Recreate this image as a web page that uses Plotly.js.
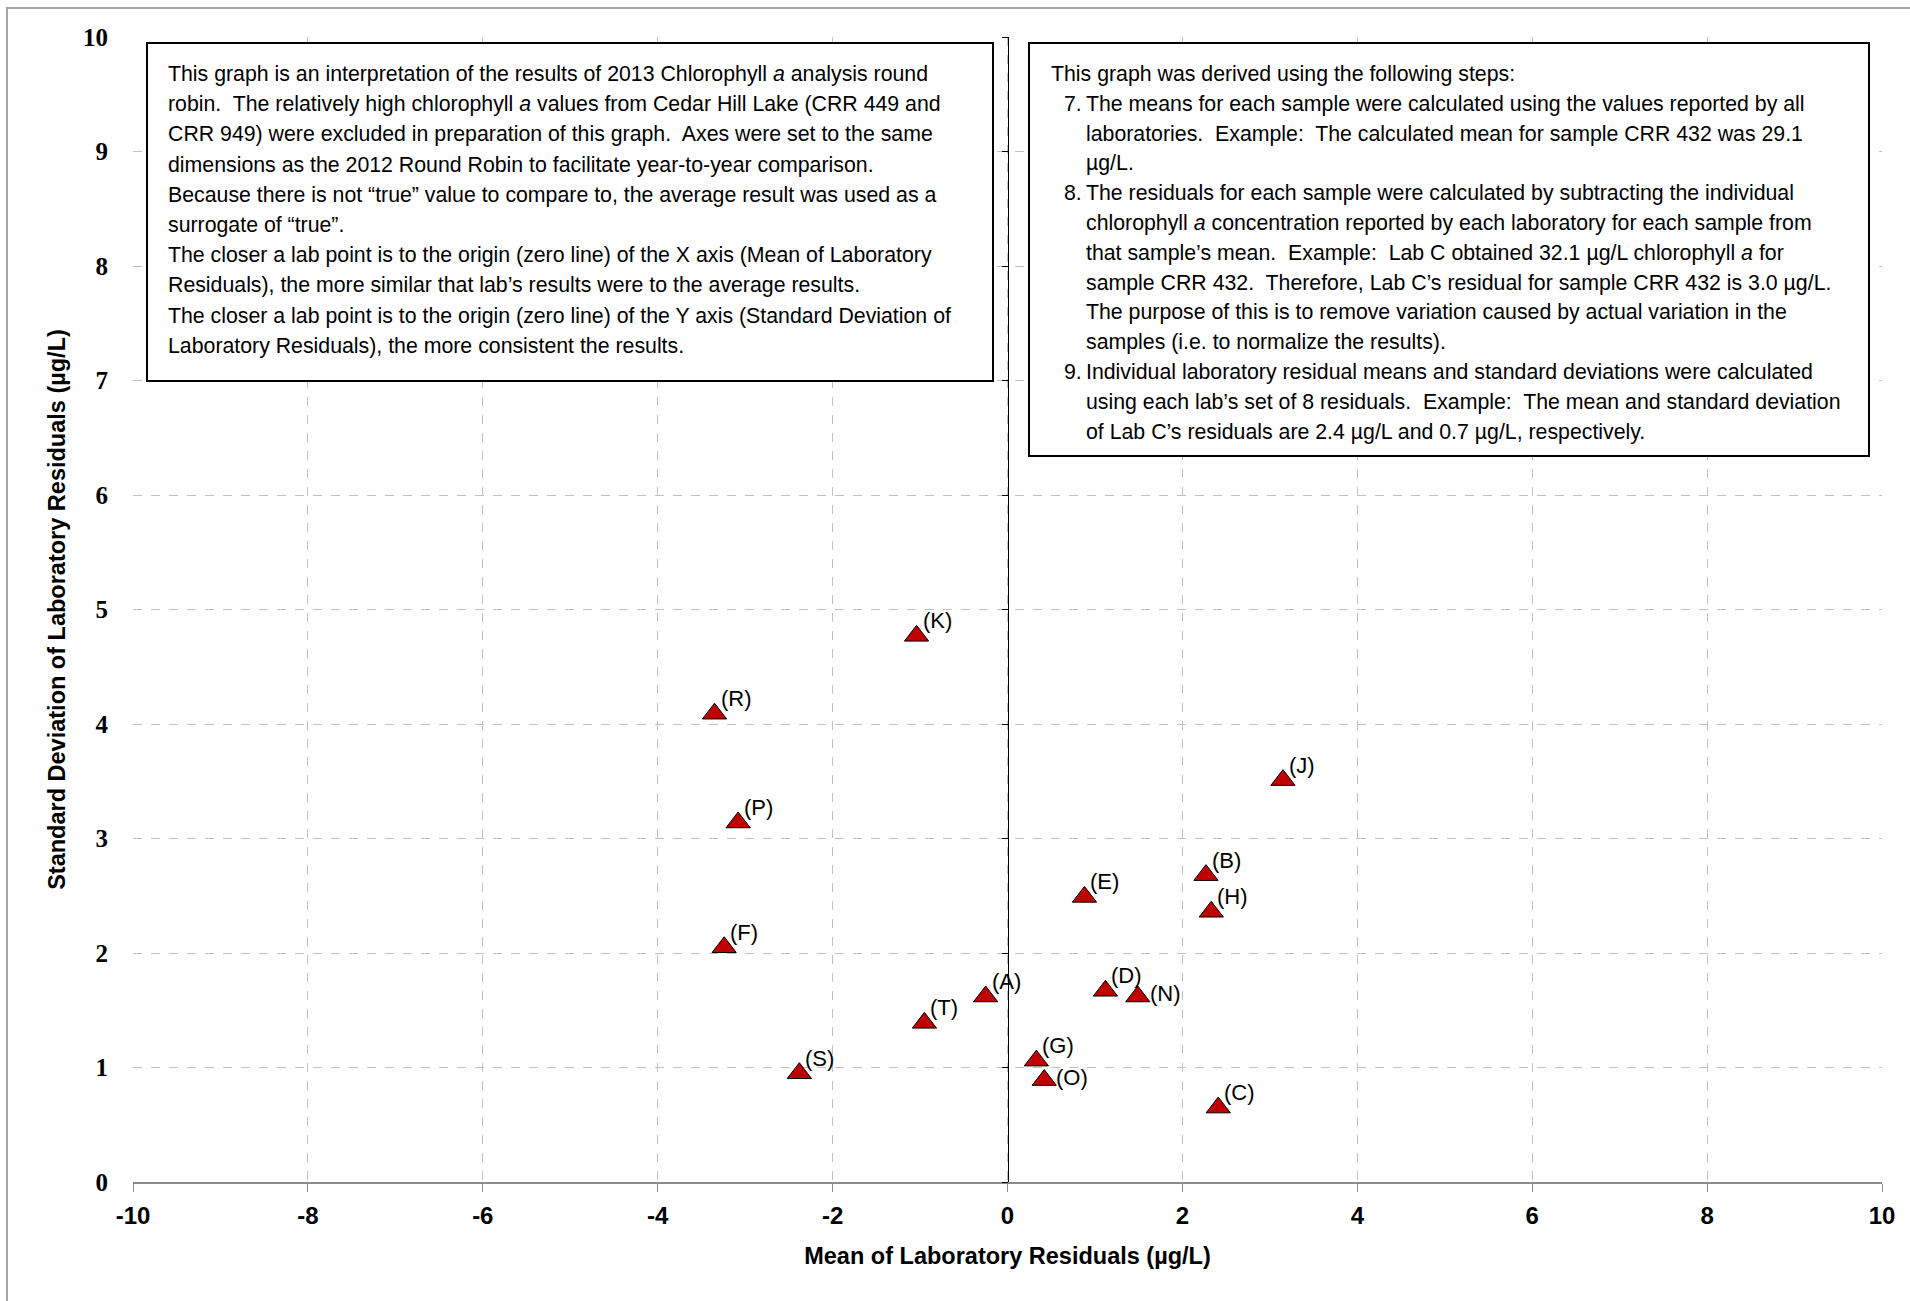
<!DOCTYPE html>
<html>
<head>
<meta charset="utf-8">
<script src="https://cdn.plot.ly/plotly-3.0.1.min.js"></script>
<style>html,body{margin:0;padding:0;background:#fff;}#chart{width:1910px;height:1301px;}</style>
</head>
<body>
<div id="chart"></div>
<script>
// ---- data ----
const labNames = ['A','B','C','D','E','F','G','H','J','K','N','O','P','R','S','T'];
const meanResiduals = [-0.25, 2.27, 2.41, 1.12, 0.88, -3.24, 0.33, 2.33, 3.15, -1.04, 1.49, 0.42, -3.08, -3.35, -2.38, -0.95];
const sdResiduals   = [ 1.62, 2.68, 0.65, 1.67, 2.49,  2.05, 1.06, 2.36, 3.51,  4.77, 1.62, 0.89,  3.14,  4.09,  0.95,  1.39];
const labLabels = labNames.map(n => '(' + n + ')');

const xTickVals = [-10,-8,-6,-4,-2,0,2,4,6,8,10];
const yTickVals = [0,1,2,3,4,5,6,7,8,9,10];

const xTitle = 'Mean of Laboratory Residuals (µg/L)';
const yTitle = 'Standard Deviation of Laboratory Residuals (µg/L)';

const leftBoxLines = [
  'This graph is an interpretation of the results of 2013 Chlorophyll <i>a</i> analysis round',
  'robin.&nbsp; The relatively high chlorophyll <i>a</i> values from Cedar Hill Lake (CRR 449 and',
  'CRR 949) were excluded in preparation of this graph.&nbsp; Axes were set to the same',
  'dimensions as the 2012 Round Robin to facilitate year-to-year comparison.',
  'Because there is not “true” value to compare to, the average result was used as a',
  'surrogate of “true”.',
  'The closer a lab point is to the origin (zero line) of the X axis (Mean of Laboratory',
  'Residuals), the more similar that lab’s results were to the average results.',
  'The closer a lab point is to the origin (zero line) of the Y axis (Standard Deviation of',
  'Laboratory Residuals), the more consistent the results.'
];
const rightBoxLines = [
  'This graph was derived using the following steps:',
  'The means for each sample were calculated using the values reported by all',
  'laboratories.&nbsp; Example:&nbsp; The calculated mean for sample CRR 432 was 29.1',
  'µg/L.',
  'The residuals for each sample were calculated by subtracting the individual',
  'chlorophyll <i>a</i> concentration reported by each laboratory for each sample from',
  'that sample’s mean.&nbsp; Example:&nbsp; Lab C obtained 32.1 µg/L chlorophyll <i>a</i> for',
  'sample CRR 432.&nbsp; Therefore, Lab C’s residual for sample CRR 432 is 3.0 µg/L.',
  'The purpose of this is to remove variation caused by actual variation in the',
  'samples (i.e. to normalize the results).',
  'Individual laboratory residual means and standard deviations were calculated',
  'using each lab’s set of 8 residuals.&nbsp; Example:&nbsp; The mean and standard deviation',
  'of Lab C’s residuals are 2.4 µg/L and 0.7 µg/L, respectively.'
];
const rightBoxNumbers = ['', '7.', '', '', '8.', '', '', '', '', '', '9.', '', ''];

// ---- layout geometry (pixels) ----
const W = 1910, H = 1301;
const PL = 133, PR = 1882, PT = 37, PB = 1182;
const px2x = p => (p - PL) / (PR - PL);
const py2y = p => (PB - p) / (PB - PT);

// label placement style: labels beside (not above) these markers
const middleLabels = ['N','O'];

const sans = '"Liberation Sans", Arial, sans-serif';
const boxFont = {family: sans, size: 21.3, color: '#000'};
const labelFont = {family: sans, size: 22, color: '#000'};

const traces = [
  {
    type: 'scatter', mode: 'markers',
    x: meanResiduals, y: sdResiduals, text: labLabels,
    marker: {symbol: 'triangle-up', size: 21, color: '#C00000', line: {color: '#000', width: 1}},
    cliponaxis: false, hoverinfo: 'x+y+text', showlegend: false
  },
  {
    type: 'scatter', mode: 'markers', xaxis: 'x', yaxis: 'y2',
    x: meanResiduals, y: sdResiduals,
    marker: {opacity: 0}, hoverinfo: 'skip', showlegend: false
  }
];

const annotations = [];
const shapes = [];

// point labels
labNames.forEach((n, i) => {
  const beside = middleLabels.includes(n);
  annotations.push({xref: 'x', yref: 'y', x: meanResiduals[i], y: sdResiduals[i],
    text: labLabels[i], showarrow: false, xanchor: 'left', yanchor: 'middle',
    xshift: beside ? 10 : 4, yshift: beside ? 3 : 15, font: labelFont});
});

// outer chart border
shapes.push({type: 'rect', xref: 'paper', yref: 'paper', layer: 'below',
  x0: px2x(7), x1: px2x(1918), y0: py2y(1320), y1: py2y(8),
  line: {color: '#a6a6a6', width: 2}, fillcolor: 'rgba(0,0,0,0)'});

// text boxes
shapes.push({type: 'rect', xref: 'paper', yref: 'paper', layer: 'above',
  x0: px2x(147), x1: px2x(993), y0: py2y(381), y1: py2y(43),
  line: {color: '#000', width: 2}, fillcolor: '#fff'});
shapes.push({type: 'rect', xref: 'paper', yref: 'paper', layer: 'above',
  x0: px2x(1029), x1: px2x(1869), y0: py2y(456), y1: py2y(43),
  line: {color: '#000', width: 2}, fillcolor: '#fff'});

leftBoxLines.forEach((t, i) => {
  annotations.push({xref: 'paper', yref: 'paper', x: px2x(166), y: py2y(74 + i * 30.2),
    xanchor: 'left', yanchor: 'middle', showarrow: false, align: 'left', text: t, font: boxFont});
});
rightBoxLines.forEach((t, i) => {
  const indent = i === 0 ? 1049 : 1084;
  annotations.push({xref: 'paper', yref: 'paper', x: px2x(indent), y: py2y(74 + i * 29.8),
    xanchor: 'left', yanchor: 'middle', showarrow: false, align: 'left', text: t, font: boxFont});
  if (rightBoxNumbers[i]) {
    annotations.push({xref: 'paper', yref: 'paper', x: px2x(1062), y: py2y(74 + i * 29.8),
      xanchor: 'left', yanchor: 'middle', showarrow: false, align: 'left', text: rightBoxNumbers[i], font: boxFont});
  }
});

const layout = {
  width: W, height: H,
  margin: {l: PL, r: W - PR, t: PT, b: H - PB, pad: 0},
  paper_bgcolor: '#fff', plot_bgcolor: '#fff',
  showlegend: false,
  xaxis: {
    range: [-10, 10], tickvals: xTickVals, ticktext: xTickVals.map(String),
    showgrid: true, gridcolor: '#c0c0c0', griddash: 'dash', gridwidth: 1,
    zeroline: false, showline: true, linecolor: '#8c8c8c', linewidth: 2,
    ticks: 'outside', ticklen: 8, tickcolor: '#8c8c8c', tickwidth: 1,
    ticklabelstandoff: 3,
    tickfont: {family: sans, size: 24, color: '#000', weight: 'bold'},
    title: {text: xTitle, standoff: 20, font: {family: sans, size: 23.5, color: '#000', weight: 'bold'}},
    fixedrange: true
  },
  yaxis: {
    range: [0, 10], tickvals: yTickVals, ticktext: yTickVals.map(String),
    showgrid: true, gridcolor: '#c0c0c0', griddash: 'dash', gridwidth: 1,
    zeroline: false, showline: false, ticks: '',
    ticklabelstandoff: 24,
    tickfont: {family: '"Liberation Serif", "DejaVu Serif", serif', size: 25, color: '#000', weight: 'bold'},
    title: {text: yTitle, standoff: 10, font: {family: sans, size: 23.5, color: '#000', weight: 'bold'}},
    fixedrange: true
  },
  yaxis2: {
    overlaying: 'y', anchor: 'free', position: 0.5, side: 'left',
    range: [0, 10], tickvals: yTickVals, showticklabels: false,
    showgrid: false, zeroline: false, showline: true, linecolor: '#000', linewidth: 1,
    ticks: 'outside', ticklen: 6, tickcolor: '#000', tickwidth: 1, fixedrange: true
  },
  shapes: shapes,
  annotations: annotations
};

Plotly.newPlot('chart', traces, layout, {displayModeBar: false, staticPlot: true});
</script>
</body>
</html>
